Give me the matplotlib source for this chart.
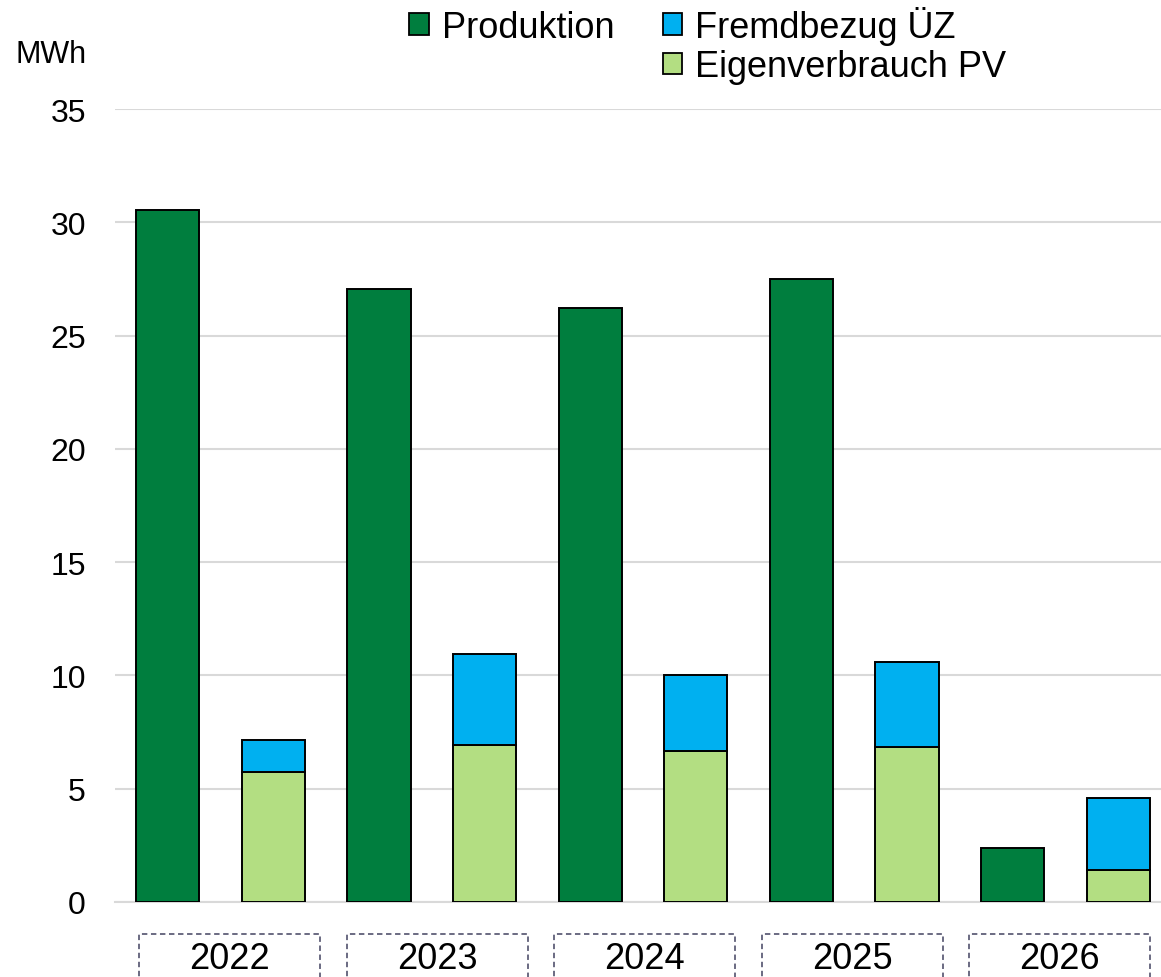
import matplotlib
matplotlib.use("Agg")
import matplotlib.pyplot as plt
from matplotlib.patches import Rectangle, Patch

plt.rcParams['font.family'] = ['Liberation Sans', 'DejaVu Sans']

years = ["2022", "2023", "2024", "2025", "2026"]
produktion = [30.55, 27.05, 26.2, 27.5, 2.4]
eigenverbrauch = [5.75, 6.93, 6.65, 6.83, 1.42]
fremdbezug = [1.42, 4.02, 3.37, 3.76, 3.18]
yticks = [0, 5, 10, 15, 20, 25, 30, 35]

c_prod = "#007E3E"
c_frem = "#00B0F0"
c_eigen = "#B3DE82"

W, H = 1161, 978
fig = plt.figure(figsize=(W / 100, H / 100), dpi=100)
ax = fig.add_axes([115 / W, (H - 903) / H, 1056 / W, 793 / H])

n = len(years)
xp = [2 * i for i in range(n)]
xc = [2 * i + 1 for i in range(n)]
bw = 0.6
ax.bar(xp, produktion, width=bw, color=c_prod, edgecolor="black", linewidth=1.4, zorder=3)
ax.bar(xc, eigenverbrauch, width=bw, color=c_eigen, edgecolor="black", linewidth=1.4, zorder=3)
ax.bar(xc, fremdbezug, width=bw, bottom=eigenverbrauch, color=c_frem, edgecolor="black", linewidth=1.4, zorder=3)

ax.set_xlim(-0.5, 2 * n - 0.5)
ax.set_ylim(0, 35)
ax.set_yticks(yticks)
ax.yaxis.grid(True, color="#D9D9D9", linewidth=1.5, zorder=0)
ax.set_axisbelow(True)
for s in ["top", "right", "left"]:
    ax.spines[s].set_visible(False)
ax.spines["bottom"].set_color("#D9D9D9")
ax.spines["bottom"].set_linewidth(1.5)
ax.tick_params(axis="y", length=0, pad=21, labelsize=23)
ax.tick_params(axis="x", length=0, labelbottom=False)

# category axis for the year boxes
ax2 = fig.add_axes([125.7 / W, 0, 1038 / W, (H - 935) / H])
ax2.set_xlim(-0.5, n - 0.5)
ax2.set_ylim(0, 1)
ax2.axis("off")
for i, y in enumerate(years):
    bwid = 0.872
    r = Rectangle((i - bwid / 2, -0.5), bwid, 1.5, fill=False, edgecolor="#5F5F78",
                  linestyle=(0, (3, 2)), linewidth=1.3, clip_on=False)
    ax2.add_patch(r)
    ax2.text(i, 0.42, y, ha="center", va="center", fontsize=26)

fig.text(15 / W, 1 - 55 / H, "MWh", ha="left", va="center", fontsize=22)

handles = [Patch(facecolor=c_prod, edgecolor="black", linewidth=1.3),
           Patch(facecolor="none", edgecolor="none"),
           Patch(facecolor=c_frem, edgecolor="black", linewidth=1.3),
           Patch(facecolor=c_eigen, edgecolor="black", linewidth=1.3)]
labels = ["Produktion", "", "Fremdbezug ÜZ", "Eigenverbrauch PV"]
fig.legend(handles, labels, ncol=2, loc="upper left", bbox_to_anchor=(409 / W, 1 - 7 / H),
           frameon=False, fontsize=26, handlelength=0.55, handleheight=0.55,
           handletextpad=0.36, columnspacing=1.33, labelspacing=0.12, borderpad=0,
           borderaxespad=0)

fig.savefig("out.png", dpi=100)
